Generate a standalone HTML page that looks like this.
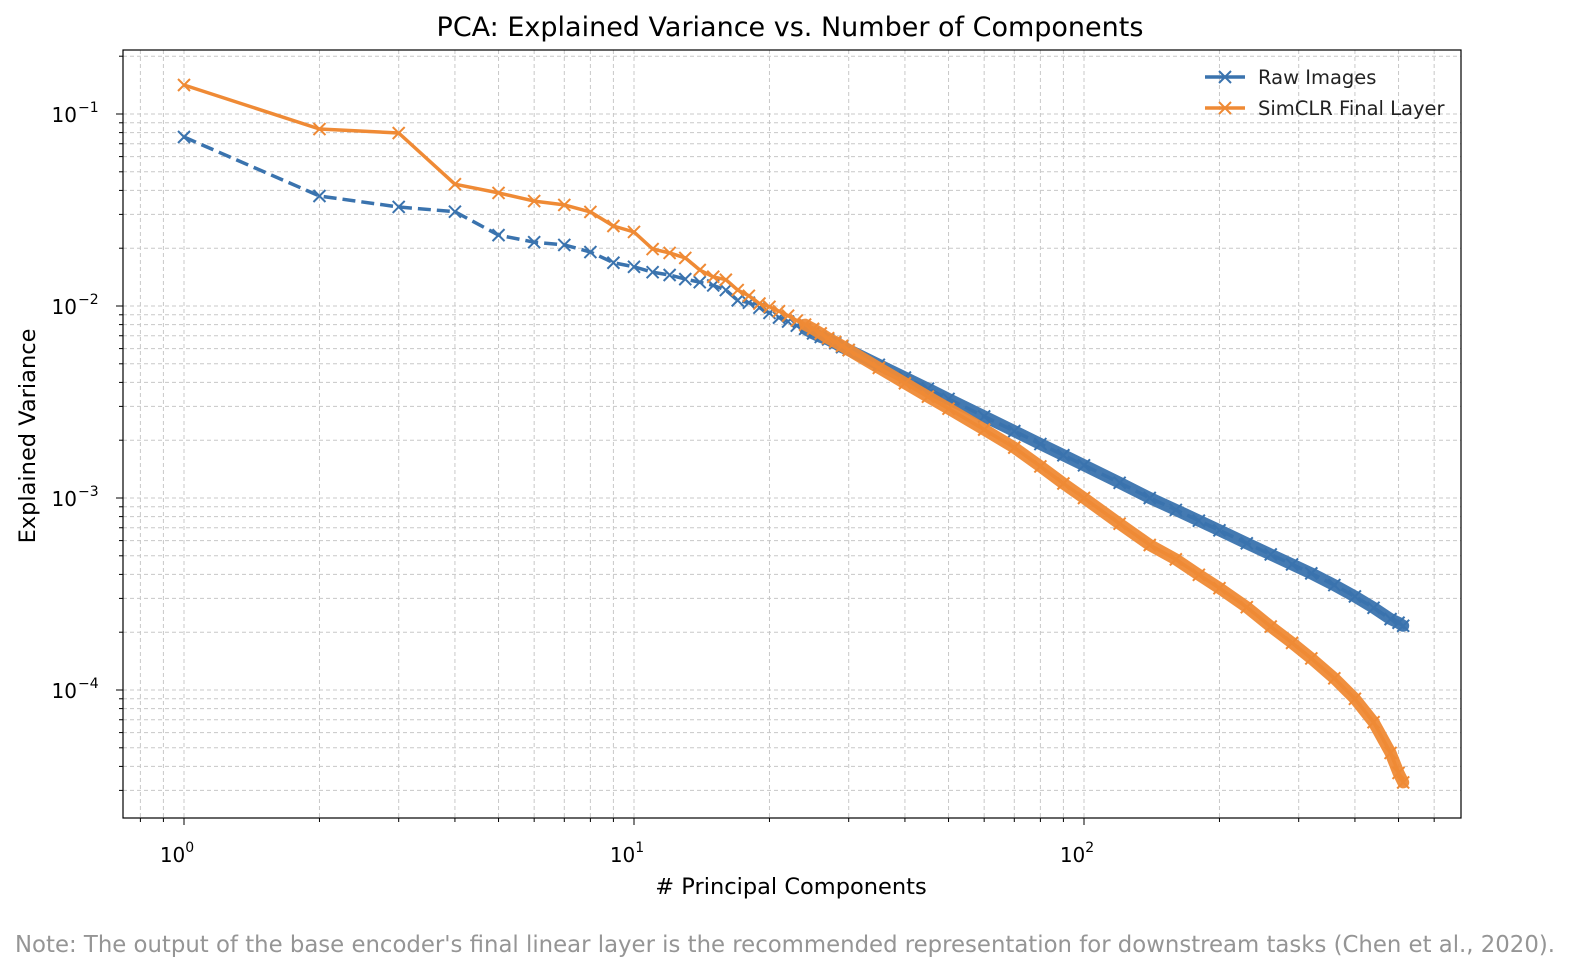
<!DOCTYPE html>
<html><head><meta charset="utf-8">
<style>
html,body{margin:0;padding:0;background:#fff;}
body{width:1578px;height:974px;overflow:hidden;font-family:"DejaVu Sans","Liberation Sans",sans-serif;}
</style></head>
<body>
<svg id="chart" width="1578" height="974" xmlns="http://www.w3.org/2000/svg" font-family="DejaVu Sans, Liberation Sans, sans-serif">
<g id="grid"></g>
<g id="series"></g>
<rect x="123" y="50" width="1338" height="768" fill="none" stroke="#000" stroke-width="1.2"/>
<g id="ticks"></g>
<text x="790" y="36" text-anchor="middle" font-size="27" fill="#000">PCA: Explained Variance vs. Number of Components</text>
<text x="791" y="894" text-anchor="middle" font-size="22.5" fill="#000"># Principal Components</text>
<text transform="translate(35,436) rotate(-90)" text-anchor="middle" font-size="22.5" fill="#000">Explained Variance</text>
<g>
  <g>
    <line x1="1205" y1="77" x2="1245" y2="77" stroke="#3a73ae" stroke-width="3.5"/>
    <path d="M1219,71 L1231,83 M1219,83 L1231,71" stroke="#3a73ae" stroke-width="2"/>
    <text x="1258" y="84" font-size="19.5" fill="#222">Raw Images</text>
  </g>
  <g>
    <line x1="1205" y1="108" x2="1245" y2="108" stroke="#ef8a35" stroke-width="3.5"/>
    <path d="M1219,102 L1231,114 M1219,114 L1231,102" stroke="#ef8a35" stroke-width="2"/>
    <text x="1258" y="115" font-size="19.5" fill="#222">SimCLR Final Layer</text>
  </g>
</g>
<text x="15" y="952" font-size="22.8" fill="#959595">Note: The output of the base encoder's final linear layer is the recommended representation for downstream tasks (Chen et al., 2020).</text>
</svg>
<script>
const components = [1,2,3,4,5,6,7,8,9,10,11,12,13,14,15,16,17,18,19,20,21,22,23,24,25,26,27,28,29,30,35,40,45,50,60,70,80,90,100,120,140,160,180,200,230,260,290,320,360,400,440,480,500,512];
const rawImages = [0.0759,0.0374,0.0328,0.0310,0.0234,0.0215,0.0208,0.0191,0.0168,0.0160,0.0150,0.0145,0.0138,0.0133,0.0128,0.0121,0.0107,0.0104,0.0098,0.0092,0.0087,0.0083,0.0079,0.0076,0.0072,0.0069,0.0067,0.0064,0.0061,0.0059,0.00494,0.00424,0.00371,0.00328,0.00266,0.00223,0.00191,0.00167,0.00148,0.00120,0.00100,0.000867,0.000762,0.000679,0.000581,0.000508,0.000451,0.000405,0.000352,0.000307,0.000268,0.000234,0.000224,0.000216];
const simclr = [0.1416,0.0835,0.0796,0.0431,0.0388,0.0352,0.0336,0.0309,0.0261,0.0243,0.0198,0.0189,0.0178,0.0154,0.0142,0.0137,0.0121,0.0113,0.0103,0.0099,0.0094,0.0089,0.0084,0.0080,0.0076,0.0072,0.0068,0.0065,0.0062,0.0059,0.00476,0.00396,0.00337,0.00292,0.00227,0.00183,0.00146,0.00119,0.00100,0.000735,0.000569,0.000479,0.000398,0.000339,0.000270,0.000214,0.000176,0.000146,0.000115,0.000090,0.000068,0.000047,0.000037,0.000033];
const xMajorTicks = [1,10,100];
const yMajorTicks = [1e-1,1e-2,1e-3,1e-4];
const xTickExp = ["0","1","2"];
const yTickExp = ["\u22121","\u22122","\u22123","\u22124"];

const NS = "http://www.w3.org/2000/svg";
const X0 = 184, XPD = 450, Y0 = 114, YPD = 192;
function xs(n){ return X0 + XPD*Math.log10(n); }
function ys(v){ return Y0 - YPD*(Math.log10(v)+1); }
function mk(tag, attrs, parent){ const e=document.createElementNS(NS,tag); for(const k in attrs) e.setAttribute(k,attrs[k]); parent.appendChild(e); return e; }

const grid = document.getElementById('grid');
const ticks = document.getElementById('ticks');
for (let d=-1; d<=2; d++){
  for (let m=1; m<=9; m++){
    const v = m*Math.pow(10,d);
    const x = xs(v);
    if (x<124 || x>1460) continue;
    const g = mk('line',{x1:x,y1:50,x2:x,y2:818,stroke:'#c8c8c8','stroke-width':1,'stroke-dasharray':'4,3'},grid);
    
    
    const t = mk('line',{x1:x,y1:818,x2:x,y2:818+(m===1?7:4),stroke:'#000','stroke-width':1},ticks);
    
    
  }
}
for (let d=-5; d<=-1; d++){
  for (let m=1; m<=9; m++){
    const v = m*Math.pow(10,d);
    const y = ys(v);
    if (y<51 || y>817) continue;
    const g = mk('line',{x1:123,y1:y,x2:1461,y2:y,stroke:'#c8c8c8','stroke-width':1,'stroke-dasharray':'4,3'},grid);
    
    
    const t = mk('line',{x1:123-(m===1?7:4),y1:y,x2:123,y2:y,stroke:'#000','stroke-width':1},ticks);
    
    
  }
}
xMajorTicks.forEach((v,i)=>{
  const t = mk('text',{x:xs(v)-7,y:862,'text-anchor':'middle','font-size':20,fill:'#000'},ticks);
  
  
  t.textContent='10';
  const s = mk('tspan',{dy:-10,'font-size':14},t);
  s.textContent=xTickExp[i];
});
yMajorTicks.forEach((v,i)=>{
  const t = mk('text',{x:77,y:ys(v)+8,'text-anchor':'end','font-size':20,fill:'#000'},ticks);
  
  
  t.textContent='10';
  const s = mk('tspan',{x:78,dy:-10,'font-size':14,'text-anchor':'start'},t);
  s.textContent=yTickExp[i];
});

const seriesG = document.getElementById('series');
function drawSeries(vals, color, dashed, name){
  const g = mk('g',{},seriesG);
  
  
  const pts = components.map((n,i)=>xs(n).toFixed(1)+','+ys(vals[i]).toFixed(1));
  const bandPts = components.map((n,i)=>n>=24?xs(n).toFixed(1)+','+ys(vals[i]).toFixed(1):null).filter(p=>p);
  const band = mk('polyline',{points:bandPts.join(' '),fill:'none',stroke:color,'stroke-width':12,'stroke-linejoin':'round','stroke-linecap':'round','stroke-opacity':0.95},g);
  
  
  const line = mk('polyline',{points:pts.join(' '),fill:'none',stroke:color,'stroke-width':3.5,'stroke-linejoin':'round'},g);
  if (dashed) line.setAttribute('stroke-dasharray','13,6');
  
  
  components.forEach((n,i)=>{
    const x=xs(n), y=ys(vals[i]);
    const m = mk('path',{d:`M${x-6},${y-6} L${x+6},${y+6} M${x-6},${y+6} L${x+6},${y-6}`,stroke:color,'stroke-width':2},g);
    
    
  });
}
drawSeries(rawImages,'#3a73ae',true,'raw-images-series');
drawSeries(simclr,'#ef8a35',false,'simclr-series');
</script>
</body></html>
